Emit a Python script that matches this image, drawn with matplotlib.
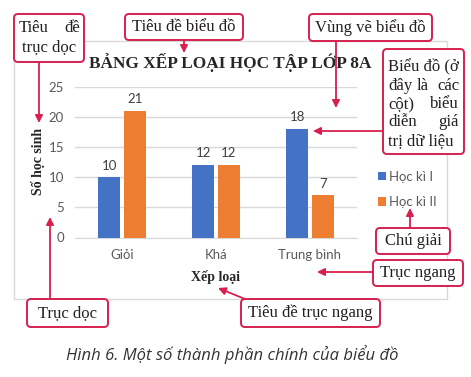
import matplotlib
matplotlib.use("Agg")
import matplotlib.pyplot as plt
import numpy as np
from matplotlib.patches import FancyBboxPatch, Rectangle

# ---- data ----
categories = ["Giỏi", "Khá", "Trung bình"]
series_names = ["Học kì I", "Học kì II"]
hk1 = [10, 12, 18]
hk2 = [21, 12, 7]
yticks = [0, 5, 10, 15, 20, 25]
title = "BẢNG XẾP LOẠI HỌC TẬP LỚP 8A"
xlabel = "Xếp loại"
ylabel = "Số học sinh"
caption = "Hình 6. Một số thành phần chính của biểu đồ"

BLUE = "#4472C4"
ORANGE = "#ED7D31"
RED = "#d6204e"
GRID = "#d9d9d9"
TXT = "#595959"
SERIF = "Liberation Serif"
SANS = "Lato"

W, H = 471, 377
fig = plt.figure(figsize=(W / 100, H / 100), dpi=100)
fig.patch.set_facecolor("white")

def fx(px):
    return px / W

def fy(py):
    return 1 - py / H

# ---- main axes ----
ax = fig.add_axes([fx(75), fy(237.5), 282 / W, 151 / H])
x = np.arange(len(categories))
bw = 0.23
off = 0.137
b1 = ax.bar(x - off, hk1, bw, color=BLUE, label=series_names[0], zorder=3)
b2 = ax.bar(x + off, hk2, bw, color=ORANGE, label=series_names[1], zorder=3)
for bars in (b1, b2):
    for r in bars:
        ax.annotate(f"{int(r.get_height())}", (r.get_x() + r.get_width() / 2, r.get_height()),
                    xytext=(0, 4), textcoords="offset points", ha="center", va="bottom",
                    fontsize=9.5, family=SANS, color="#404040")
ax.set_xlim(-0.5, 2.5)
ax.set_ylim(0, 25)
ax.set_yticks(yticks)
ax.set_xticks(x)
ax.set_xticklabels(categories)
ax.yaxis.grid(True, color=GRID, lw=1, zorder=0)
for s in ("top", "right", "left"):
    ax.spines[s].set_visible(False)
ax.spines["bottom"].set_color(GRID)
ax.tick_params(axis="both", length=0, labelsize=9.5, labelcolor=TXT)
ax.tick_params(axis="y", pad=8)
ax.tick_params(axis="x", pad=8)
for tl in ax.get_xticklabels() + ax.get_yticklabels():
    tl.set_family(SANS)

# legend
leg = fig.legend(handles=[b1, b2], labels=series_names, loc="upper left",
                 bbox_to_anchor=(fx(371), fy(164)), frameon=False,
                 handlelength=0.65, handleheight=0.65, handletextpad=0.25,
                 labelspacing=1.05, borderpad=0,
                 prop={"family": SANS, "size": 9.5})
for tl in leg.get_texts():
    tl.set_color(TXT)

# ---- overlay for chart frame, titles and annotations ----
ov = fig.add_axes([0, 0, 1, 1], zorder=5)
ov.set_xlim(0, W)
ov.set_ylim(H, 0)
ov.axis("off")
ov.patch.set_alpha(0)

ov.add_patch(Rectangle((14, 41), 433, 258, fill=False, ec=GRID, lw=1))

ov.text(230, 63, title, ha="center", va="center", family=SERIF, weight="bold",
        fontsize=12.4, color="#262626")
ov.text(216, 277, xlabel, ha="center", va="center", family=SERIF, weight="bold",
        fontsize=10, color="#262626")
ov.text(38, 161, ylabel, ha="center", va="center", rotation=90, family=SERIF,
        weight="bold", fontsize=10, color="#262626")

def box(x0, y0, x1, y1):
    ov.add_patch(FancyBboxPatch((x0, y0), x1 - x0, y1 - y0,
                                boxstyle="round,pad=0,rounding_size=4",
                                fc="white", ec=RED, lw=1.4, zorder=3))

def arrow(x0, y0, x1, y1):
    ov.annotate("", xy=(x1, y1), xytext=(x0, y0),
                arrowprops=dict(arrowstyle="-|>", color=RED, lw=1.3,
                                mutation_scale=11, shrinkA=0, shrinkB=0),
                zorder=4)

FS = 12

def t(xp, yp, s, ha="center"):
    ov.text(xp, yp, s, ha=ha, va="center", family=SERIF, fontsize=FS,
            color="#231f20", zorder=5)

# Tiêu đề trục dọc
box(14, 14, 84, 62)
t(19, 28, "Tiêu", "left"); t(80, 28, "đề", "right")
t(49, 47, "trục dọc")
arrow(39, 62, 39, 123)

# Tiêu đề biểu đồ
box(125, 14, 243, 40)
t(184, 27, "Tiêu đề biểu đồ")
arrow(184, 40, 184, 53)

# Vùng vẽ biểu đồ
box(309, 14, 432, 41)
t(370.5, 27.5, "Vùng vẽ biểu đồ")
arrow(336, 41, 336, 108)

# Biểu đồ (ở đây là các cột) biểu diễn giá trị dữ liệu
box(383, 49, 464, 154)
t(388, 67, "Biểu đồ (ở", "left")
t(388, 85.5, "đây", "left"); t(423, 85.5, "là", "center"); t(459, 85.5, "các", "right")
t(388, 104, "cột)", "left"); t(459, 104, "biểu", "right")
t(388, 122.5, "diễn", "left"); t(459, 122.5, "giá", "right")
t(388, 141, "trị dữ liệu", "left")
arrow(383, 131, 313, 131)

# Chú giải
box(376, 228, 450, 254)
t(413, 241, "Chú giải")
arrow(410, 228, 410, 208)

# Trục ngang
box(373, 260, 463, 286)
t(418, 273, "Trục ngang")
arrow(373, 272, 317, 272)

# Tiêu đề trục ngang
box(241, 299, 380, 327)
t(310.5, 313, "Tiêu đề trục ngang")
arrow(245, 299, 218, 288)

# Trục dọc
box(27, 299, 108, 327)
t(67.5, 313, "Trục dọc")
arrow(50, 299, 50, 217)

ov.text(232, 355, caption, ha="center", va="center", family="Open Sans",
        style="italic", fontsize=12, color="#333333")

fig.savefig("out.png", dpi=100)
